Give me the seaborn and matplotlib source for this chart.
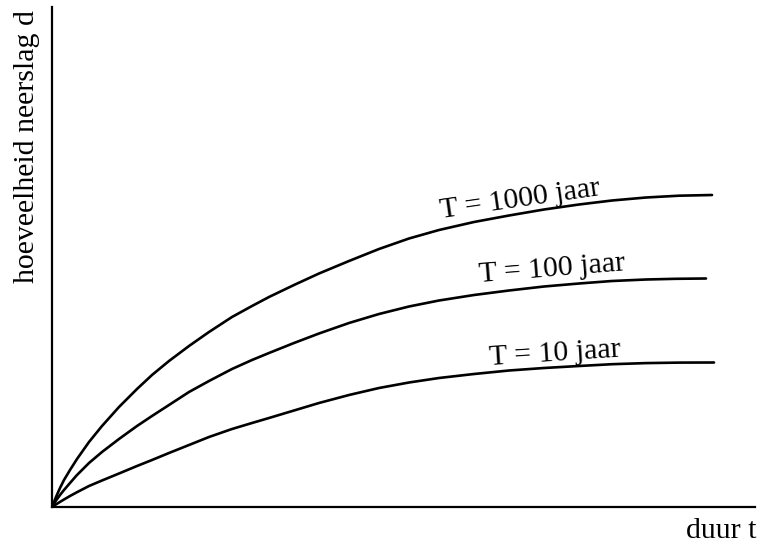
import matplotlib
matplotlib.use("Agg")
import matplotlib.pyplot as plt
import seaborn as sns
import pandas as pd

# --- data (arbitrary units) ---
t_1000 = [0, 4, 8, 12, 18, 25, 37, 50, 67, 85, 100, 117, 137, 157, 180, 200,
          217, 242, 267, 297, 327, 357, 387, 422, 457, 492, 527, 560, 594, 627, 660]
d_1000 = [0, 10, 19, 27, 37, 48, 65, 81, 100, 118, 132, 146, 161, 175, 190, 201,
          210, 222, 233.5, 246, 258, 268.5, 277, 285, 291.5, 297.5, 302.5, 306.5,
          309.5, 311.3, 312]

t_100 = [0, 4, 8, 12, 18, 25, 37, 50, 67, 85, 100, 117, 137, 157, 180, 200,
         217, 242, 267, 297, 327, 357, 387, 422, 457, 492, 527, 560, 594, 624, 654]
d_100 = [0, 6.5, 12, 17, 24, 32, 44, 55, 68, 81, 91, 102, 115, 126, 138, 147,
         154, 164, 173.5, 184, 193, 200.5, 206.5, 212, 216.5, 220.5, 223.5, 226,
         227.5, 228.2, 228.5]

t_10 = [0, 4, 8, 12, 18, 25, 37, 50, 67, 85, 100, 117, 137, 157, 180, 200,
        217, 242, 267, 297, 327, 357, 387, 422, 457, 492, 527, 560, 594, 628, 662]
d_10 = [0, 2.6, 5.1, 7.5, 11, 14.8, 21, 26.5, 33.5, 41, 47, 54, 62, 70, 78, 84,
        89, 96.5, 104, 112, 119, 124.5, 129, 133, 136.5, 139, 141, 142.8, 143.9,
        144.4, 144.5]

series_names = ["T = 1000 jaar", "T = 100 jaar", "T = 10 jaar"]
x_label = "duur t"
y_label = "hoeveelheid neerslag d"

rows = []
for name, ts, ds in zip(series_names, [t_1000, t_100, t_10], [d_1000, d_100, d_10]):
    for t, d in zip(ts, ds):
        rows.append({"t": t, "d": d, "T": name})
df = pd.DataFrame(rows)

sns.set_style("white")
plt.rcParams["font.family"] = ["Liberation Serif", "DejaVu Serif"]

fig = plt.figure(figsize=(7.63, 5.46), dpi=100)
ax = fig.add_axes([52 / 763, 39 / 546, 703 / 763, 500 / 546])

sns.lineplot(data=df, x="t", y="d", hue="T", palette=["black"] * 3,
             legend=False, linewidth=1.9, ax=ax, sort=True)

ax.set_xlim(0, 703)
ax.set_ylim(0, 500)
ax.set_xticks([])
ax.set_yticks([])
ax.set_xlabel("")
ax.set_ylabel("")
for s in ["top", "right"]:
    ax.spines[s].set_visible(False)
for s in ["left", "bottom"]:
    ax.spines[s].set_linewidth(1.6)
    ax.spines[s].set_color("black")

fs = 21.5
# curve labels (positions in data units, rotation in degrees)
label_pos = [(468.7, 300.4, 8.2), (501, 231, 4.6), (503.7, 146, 3.65)]
for name, (x, y, r) in zip(series_names, label_pos):
    ax.text(x, y, name, fontsize=fs, ha="center", va="baseline",
            rotation=r, rotation_mode="anchor", color="black")

fig.text(757 / 763, 1 - 538 / 546, x_label, fontsize=fs, ha="right",
         va="baseline", color="black")
fig.text(34 / 763, 1 - 283 / 546, y_label, fontsize=fs, rotation=90,
         rotation_mode="anchor", ha="left", va="baseline", color="black")

fig.savefig("out.png", dpi=100)
